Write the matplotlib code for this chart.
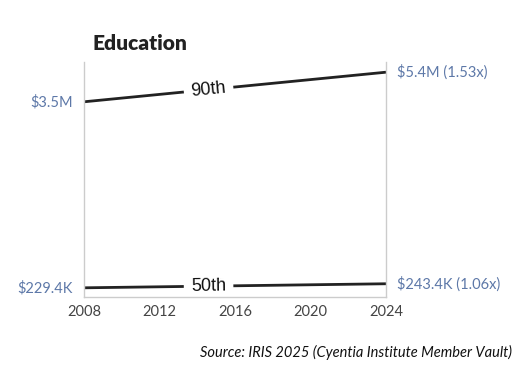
import numpy as np
import matplotlib
matplotlib.use("Agg")
import matplotlib.pyplot as plt

# data
years = [2008, 2024]
p90 = [3.5e6, 5.4e6]
p50 = [229.4e3, 243.4e3]
series_names = ['90th', '50th']
start_labels = ['$3.5M', '$229.4K']
end_labels = ['$5.4M (1.53x)', '$243.4K (1.06x)']
xticks = [2008, 2012, 2016, 2020, 2024]

plt.rcParams['font.family'] = ['Lato', 'DejaVu Sans']

fig = plt.figure(figsize=(5.25, 3.75), dpi=100)
ax = fig.add_axes([84/525, 1 - 297/375, 302/525, 235/375])

ax.set_yscale('log')
ax.set_xlim(2008, 2024)
ax.set_ylim(200500, 6.27e6)

blue = '#5d78a8'
for vals in [p90, p50]:
    ax.plot(years, vals, color='#222222', lw=2.0, solid_capstyle='butt', zorder=2)

fig.canvas.draw()
label_x = 2014.6
for name, vals in zip(series_names, [p90, p50]):
    # position and angle along the line
    ly = np.exp(np.interp(label_x, years, np.log(vals)))
    p0 = ax.transData.transform((years[0], vals[0]))
    p1 = ax.transData.transform((years[1], vals[1]))
    ang = np.degrees(np.arctan2(p1[1] - p0[1], p1[0] - p0[0]))
    ax.text(label_x, ly, name, ha='center', va='center', rotation=ang,
            rotation_mode='anchor', fontsize=13, family=['Liberation Sans', 'DejaVu Sans'],
            color='#111111', zorder=2.2,
            bbox=dict(boxstyle='square,pad=0.4', fc='white', ec='none'))

for vals, sl, el in zip([p90, p50], start_labels, end_labels):
    ax.annotate(sl, (years[0], vals[0]), xytext=(-8, 0), textcoords='offset points',
                ha='right', va='center', fontsize=10.5, color=blue)
    ax.annotate(el, (years[1], vals[1]), xytext=(8, 0), textcoords='offset points',
                ha='left', va='center', fontsize=10.5, color=blue)

ax.set_xticks(xticks)
ax.set_xticklabels([str(x) for x in xticks])
ax.set_yticks([])
ax.yaxis.set_minor_locator(matplotlib.ticker.NullLocator())
ax.tick_params(axis='x', length=0, pad=6, labelsize=10.5, labelcolor='#444444')
for s in ['left', 'right', 'bottom']:
    ax.spines[s].set_color('#cccccc')
    ax.spines[s].set_linewidth(1)
    ax.spines[s].set_zorder(3)
ax.spines['top'].set_visible(False)

fig.text(93/525, 1 - 43/375, 'Education', fontsize=15, fontweight='heavy',
         color='#222222', ha='left', va='center')
fig.text(512/525, 1 - 352/375, 'Source: IRIS 2025 (Cyentia Institute Member Vault)',
         fontsize=10.5, style='italic', color='#111111', ha='right', va='center')

fig.savefig('out.png', dpi=100)
